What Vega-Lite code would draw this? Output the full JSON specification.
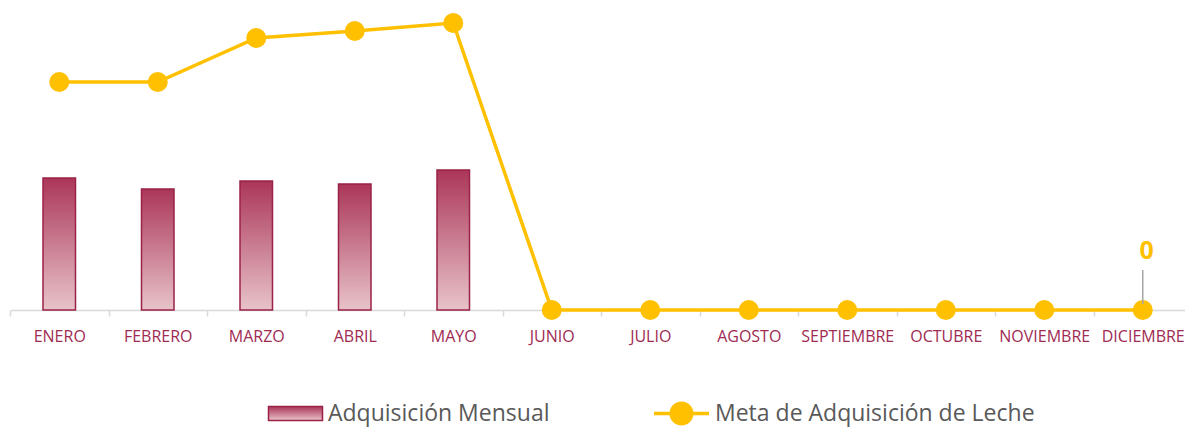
{
  "$schema": "https://vega.github.io/schema/vega-lite/v6.json",
  "width": 1182,
  "height": 300,
  "autosize": {"type": "none"},
  "padding": {"left": 10, "top": 10, "right": 0, "bottom": 117},
  "background": "white",
  "config": {"view": {"stroke": null}, "font": "Open Sans"},
  "data": {
    "values": [
      {"mes": "ENERO", "adquisicion": 132, "meta": 228},
      {"mes": "FEBRERO", "adquisicion": 121, "meta": 228},
      {"mes": "MARZO", "adquisicion": 129, "meta": 272},
      {"mes": "ABRIL", "adquisicion": 126, "meta": 279},
      {"mes": "MAYO", "adquisicion": 140, "meta": 287},
      {"mes": "JUNIO", "adquisicion": null, "meta": 0},
      {"mes": "JULIO", "adquisicion": null, "meta": 0},
      {"mes": "AGOSTO", "adquisicion": null, "meta": 0},
      {"mes": "SEPTIEMBRE", "adquisicion": null, "meta": 0},
      {"mes": "OCTUBRE", "adquisicion": null, "meta": 0},
      {"mes": "NOVIEMBRE", "adquisicion": null, "meta": 0},
      {"mes": "DICIEMBRE", "adquisicion": null, "meta": 0}
    ]
  },
  "encoding": {
    "x": {
      "field": "mes",
      "type": "nominal",
      "sort": null,
      "scale": {"paddingInner": 0, "paddingOuter": 0},
      "axis": {
        "title": null,
        "labelAngle": 0,
        "domainColor": "#D9D9D9",
        "domainWidth": 1.5,
        "tickColor": "#D9D9D9",
        "tickWidth": 1.5,
        "tickSize": 6,
        "tickBand": "extent",
        "labelColor": "#A02B52",
        "labelFont": "Open Sans",
        "labelFontSize": 16,
        "labelPadding": 12,
        "labelLimit": 300,
        "grid": false
      }
    }
  },
  "layer": [
    {
      "mark": {
        "type": "bar",
        "width": {"band": 0.33},
        "fill": {
          "gradient": "linear",
          "x1": 0, "y1": 0, "x2": 0, "y2": 1,
          "stops": [
            {"offset": 0, "color": "#AB3659"},
            {"offset": 1, "color": "#E8C3CA"}
          ]
        },
        "strokeWidth": 1.5
      },
      "encoding": {
        "y": {"field": "adquisicion", "type": "quantitative", "scale": {"domain": [0, 300]}, "axis": null},
        "stroke": {
          "datum": "Adquisición Mensual",
          "scale": {"domain": ["Adquisición Mensual"], "range": ["#9B2247"]},
          "legend": {
            "title": null,
            "orient": "none",
            "legendX": 274,
            "legendY": 392,
            "symbolSize": 400,
            "symbolType": "M-2.7,-0.7H2.7V0.7H-2.7Z",
            "symbolFillColor": {
              "gradient": "linear", "x1": 0, "y1": 0, "x2": 0, "y2": 1,
              "stops": [{"offset": 0, "color": "#AB3659"}, {"offset": 1, "color": "#E8C3CA"}]
            },
            "symbolStrokeWidth": 1.5,
            "symbolOpacity": 1,
            "labelFont": "Open Sans",
            "labelFontSize": 23,
            "labelColor": "#595959",
            "labelOffset": 21,
            "labelLimit": 600,
            "padding": 0
          }
        }
      }
    },
    {
      "mark": {"type": "line", "color": "#FFC000", "strokeWidth": 3.5},
      "encoding": {
        "y": {"field": "meta", "type": "quantitative", "scale": {"domain": [0, 300]}, "axis": null}
      }
    },
    {
      "mark": {"type": "point", "filled": true, "size": 400, "opacity": 1},
      "encoding": {
        "y": {"field": "meta", "type": "quantitative", "scale": {"domain": [0, 300]}, "axis": null},
        "color": {
          "datum": "Meta de Adquisición de Leche",
          "scale": {"domain": ["Meta de Adquisición de Leche"], "range": ["#FFC000"]},
          "legend": {
            "title": null,
            "orient": "none",
            "legendX": 660,
            "legendY": 392,
            "symbolSize": 400,
            "symbolType": "M-2.75,-0.18H2.75V0.18H-2.75Z M1.2,0A1.2,1.2 0 1,1 -1.2,0A1.2,1.2 0 1,1 1.2,0Z",
            "symbolFillColor": "#FFC000",
            "symbolStrokeWidth": 0,
            "symbolOpacity": 1,
            "labelFont": "Open Sans",
            "labelFontSize": 23,
            "labelColor": "#595959",
            "labelOffset": 22,
            "labelLimit": 600,
            "padding": 0
          }
        }
      }
    },
    {
      "transform": [{"filter": "datum.mes === 'DICIEMBRE'"}],
      "mark": {"type": "rule", "color": "#A6A6A6", "strokeWidth": 1.5},
      "encoding": {
        "y": {"datum": 6, "type": "quantitative", "scale": {"domain": [0, 300]}},
        "y2": {"datum": 40}
      }
    },
    {
      "transform": [{"filter": "datum.mes === 'DICIEMBRE'"}],
      "mark": {"type": "text", "color": "#FFC000", "fontSize": 25, "fontWeight": "bold", "baseline": "middle", "font": "Open Sans", "dx": 4},
      "encoding": {
        "y": {"datum": 59, "type": "quantitative", "scale": {"domain": [0, 300]}},
        "text": {"field": "meta", "type": "quantitative"}
      }
    }
  ]
}
